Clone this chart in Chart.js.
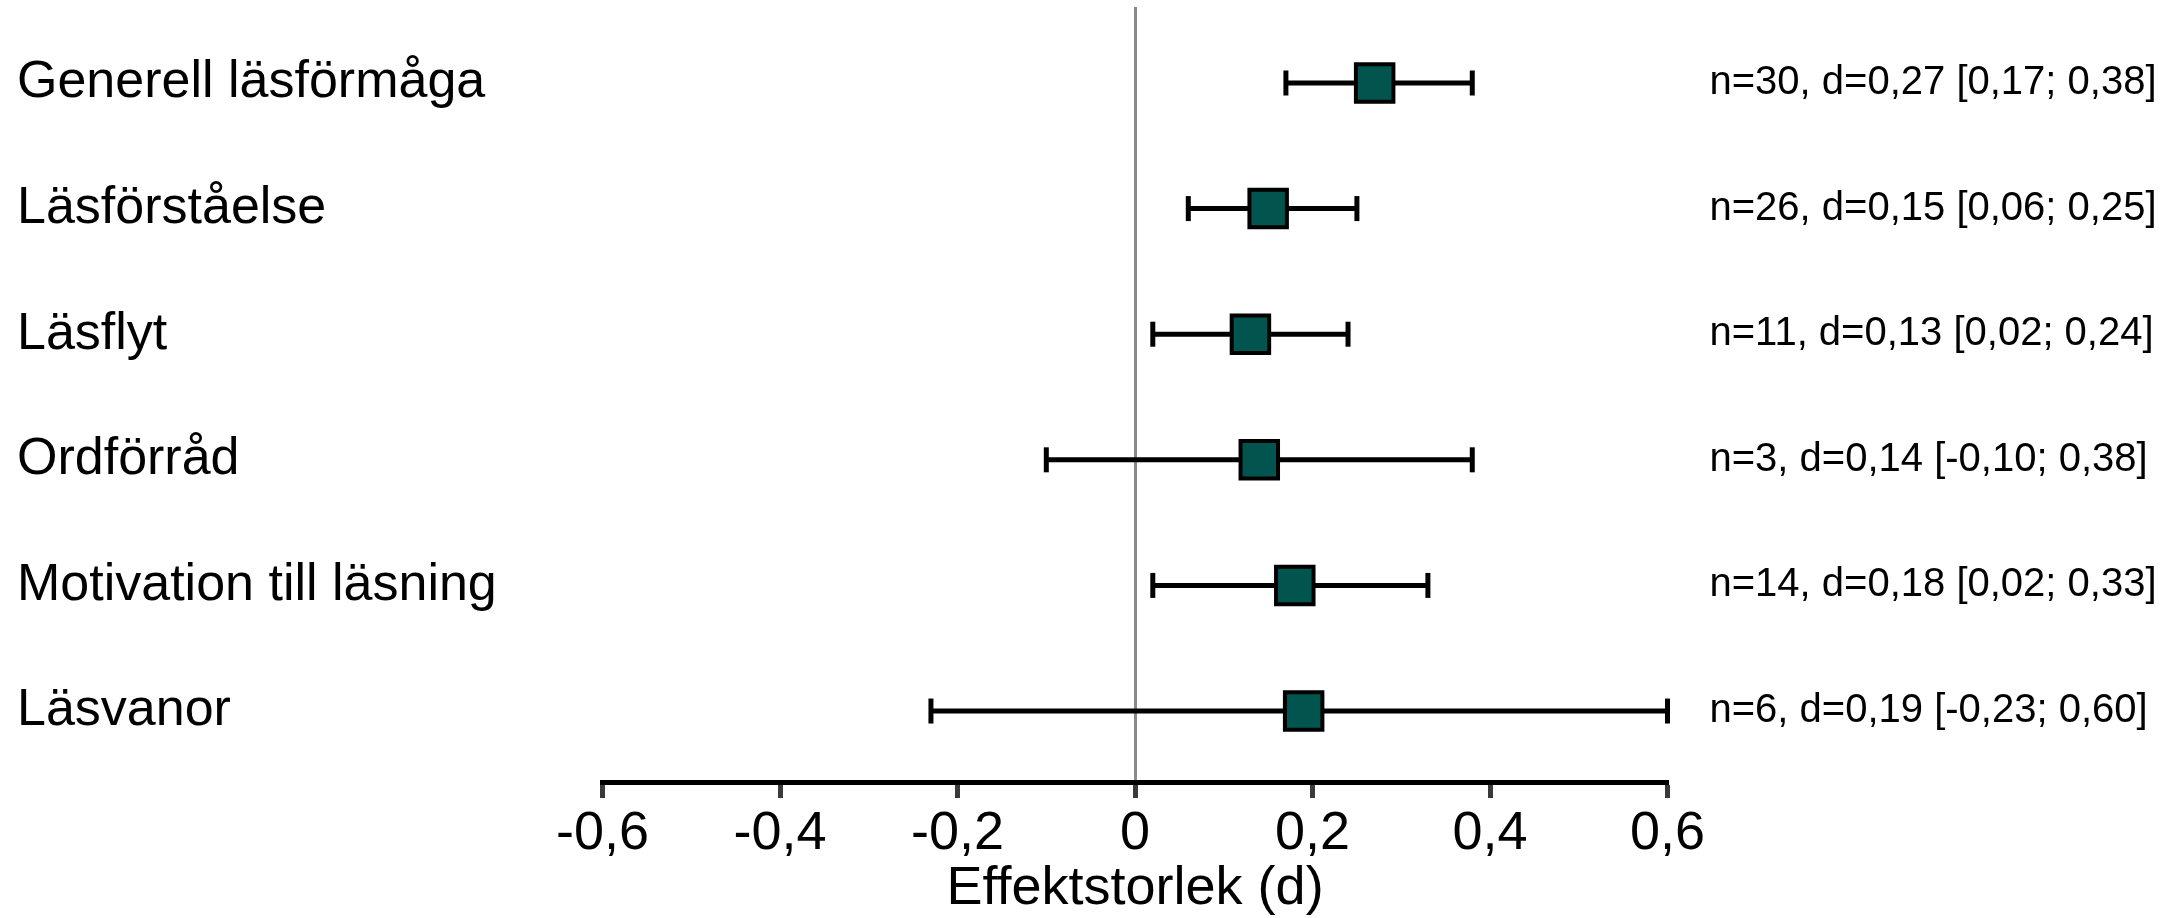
<!DOCTYPE html>
<html>
<head>
<meta charset="utf-8">
<script src="https://cdn.jsdelivr.net/npm/chart.js@4/dist/chart.umd.min.js"></script>
<style>
  html, body { margin: 0; padding: 0; background: #ffffff; }
  #wrap { width: 2177px; height: 918px; }
</style>
</head>
<body>
<div id="wrap"><canvas id="c" width="2177" height="918"></canvas></div>
<script>
// ---- data ----
const categories = [
  'Generell läsförmåga',
  'Läsförståelse',
  'Läsflyt',
  'Ordförråd',
  'Motivation till läsning',
  'Läsvanor'
];
const studyCounts = [30, 26, 11, 3, 14, 6];
const effectSizes = [0.27, 0.15, 0.13, 0.14, 0.18, 0.19];
const ciLower = [0.17, 0.06, 0.02, -0.10, 0.02, -0.23];
const ciUpper = [0.38, 0.25, 0.24, 0.38, 0.33, 0.60];
const annotations = [
  'n=30, d=0,27 [0,17; 0,38]',
  'n=26, d=0,15 [0,06; 0,25]',
  'n=11, d=0,13 [0,02; 0,24]',
  'n=3, d=0,14 [-0,10; 0,38]',
  'n=14, d=0,18 [0,02; 0,33]',
  'n=6, d=0,19 [-0,23; 0,60]'
];
const xTickValues = [-0.6, -0.4, -0.2, 0, 0.2, 0.4, 0.6];
const xTickLabels = ['-0,6', '-0,4', '-0,2', '0', '0,2', '0,4', '0,6'];
const xAxisTitle = 'Effektstorlek (d)';
const rowPositions = categories.map((_, i) => i + 1);

// ---- chart ----
Chart.defaults.font.family = "'Liberation Sans', Arial, sans-serif";
Chart.defaults.color = '#000000';

const errorDatasets = categories.map((c, i) => ({
  type: 'scatter',
  label: c + ' KI',
  data: [{ x: ciLower[i], y: rowPositions[i] }, { x: ciUpper[i], y: rowPositions[i] }],
  showLine: true,
  borderColor: '#000000',
  borderWidth: 5,
  pointStyle: 'line',
  pointRotation: 90,
  pointRadius: 12.5,
  pointBorderWidth: 5,
  pointBorderColor: '#000000',
  pointHoverRadius: 12.5,
  clip: false,
  order: 2
}));

const pointDataset = {
  type: 'scatter',
  label: 'd',
  data: effectSizes.map((d, i) => ({ x: d, y: rowPositions[i] })),
  pointStyle: 'rect',
  pointRadius: 26.5,
  pointHoverRadius: 26.5,
  pointBackgroundColor: '#02544F',
  pointBorderColor: '#000000',
  pointBorderWidth: 4,
  clip: false,
  order: 0
};

function noVerticalPadding(scale) {
  scale.paddingTop = 0;
  scale.paddingBottom = 0;
}

new Chart(document.getElementById('c'), {
  type: 'scatter',
  data: { datasets: [...errorDatasets, pointDataset] },
  options: {
    responsive: false,
    animation: false,
    devicePixelRatio: 1,
    layout: { autoPadding: false, padding: { left: 17, right: 0, top: 7, bottom: 0 } },
    plugins: { legend: { display: false }, tooltip: { enabled: false } },
    scales: {
      x: {
        type: 'linear',
        position: 'bottom',
        min: -0.6,
        max: 0.6,
        afterBuildTicks: (scale) => { scale.ticks = xTickValues.map(v => ({ value: v })); },
        afterFit: (scale) => { scale.height = 136; },
        ticks: {
          callback: (v, idx) => xTickLabels[idx],
          font: { size: 54 },
          color: '#000000',
          padding: 4,
          maxRotation: 0,
          autoSkip: false
        },
        grid: {
          drawOnChartArea: true,
          color: (ctx) => (ctx.tick && ctx.tick.value === 0) ? '#8a8a8a' : 'rgba(0,0,0,0)',
          lineWidth: 3,
          drawTicks: true,
          tickLength: 16,
          tickColor: '#3a3a3a',
          tickWidth: 5
        },
        border: { display: true, color: '#000000', width: 5 },
        title: {
          display: true,
          text: xAxisTitle,
          font: { size: 54, lineHeight: 1.08 },
          color: '#000000',
          padding: { top: 0, bottom: 0 }
        }
      },
      y: {
        type: 'linear',
        position: 'left',
        reverse: true,
        min: 0.395,
        max: 6.565,
        afterBuildTicks: (scale) => { scale.ticks = rowPositions.map(v => ({ value: v })); },
        afterFit: (scale) => { scale.width = 585.6; noVerticalPadding(scale); },
        ticks: {
          callback: (v, idx) => categories[idx],
          font: { size: 52 },
          color: '#000000',
          crossAlign: 'far',
          autoSkip: false
        },
        grid: { display: false, drawTicks: false },
        border: { display: false }
      },
      yRight: {
        type: 'linear',
        position: 'right',
        reverse: true,
        min: 0.395,
        max: 6.565,
        afterBuildTicks: (scale) => { scale.ticks = rowPositions.map(v => ({ value: v })); },
        afterFit: (scale) => { scale.width = 509.5; noVerticalPadding(scale); },
        ticks: {
          callback: (v, idx) => annotations[idx],
          font: { size: 40 },
          color: '#000000',
          crossAlign: 'near',
          padding: 42,
          autoSkip: false
        },
        grid: { display: false, drawTicks: false },
        border: { display: false }
      }
    }
  }
});
</script>
</body>
</html>
